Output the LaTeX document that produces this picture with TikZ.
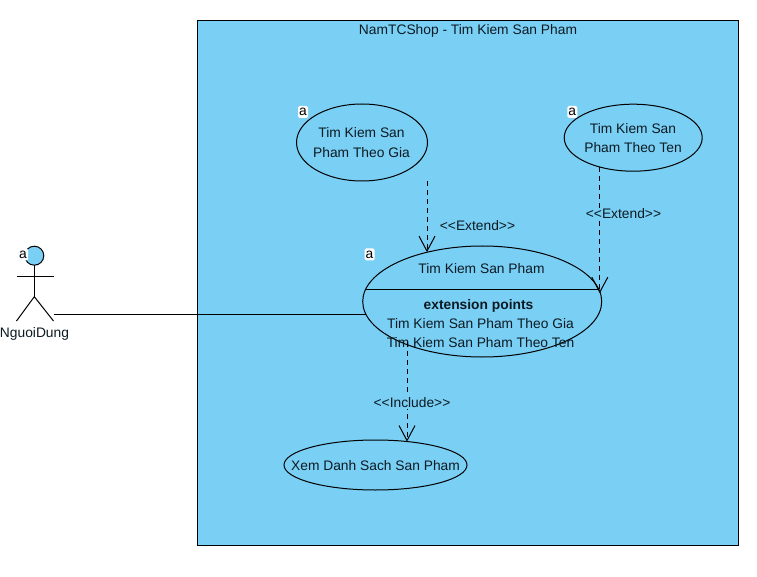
\documentclass[tikz,border=0pt]{standalone}
\usepackage{fontspec}
\setmainfont{Liberation Sans}
\usetikzlibrary{arrows.meta,shapes.geometric}
\definecolor{sysblue}{HTML}{7ACFF5}
\definecolor{inktext}{HTML}{0C1A22}
\tikzset{
  x=1pt,y=-1pt,
  every node/.style={font=\fontsize{13.8}{19.5}\selectfont,text=inktext,inner sep=0pt,outer sep=0pt},
  usecase/.style={ellipse,draw=black,line width=1pt,fill=sysblue},
  boundarybox/.style={rectangle,draw=black,line width=1pt,fill=sysblue,anchor=north west},
  lineconn/.style={draw=black,line width=1pt},
  depconn/.style={draw=black,line width=1pt,dash pattern=on 5pt off 4pt,-{Straight Barb[length=15pt,width=16pt,line width=1pt]}},
  deplabel/.style={fill=sysblue,inner xsep=1pt,inner ysep=1pt},
  badge/.style={fill=white,rounded corners=1.5pt,minimum width=10pt,minimum height=12pt,text=black,font=\fontsize{13.8}{14}\selectfont},
}
\begin{document}
\begin{tikzpicture}
\useasboundingbox (0,0) rectangle (757,577);
\fill[white] (0,0) rectangle (757,577);
\node[boundarybox,minimum width=541pt,minimum height=524pt] (sys) at (197.7,21) {};
\node (systitle) at (468,31) {NamTCShop - Tim Kiem San Pham};

\node[usecase,minimum width=131pt,minimum height=77pt] (ucGia) at (362,142.5) {};
\node[usecase,minimum width=138pt,minimum height=67pt] (ucTen) at (633.2,137.7) {};
\node[usecase,minimum width=239pt,minimum height=111pt] (ucMain) at (482.2,301.5) {};
\node[usecase,minimum width=183pt,minimum height=50pt] (ucList) at (375.5,465) {};

\node[align=center] (giaText) at (361.5,142.5) {Tim Kiem San\\Pham Theo Gia};
\node[align=center] (tenText) at (633,138) {Tim Kiem San\\Pham Theo Ten};
\node (listText) at (375.5,465.5) {Xem Danh Sach San Pham};

\coordinate (sepL) at (365.6,289.3);
\coordinate (sepR) at (598.8,289.3);
\draw[lineconn] (sepL) -- (sepR);
\node (mainTitle) at (481.5,268.7) {Tim Kiem San Pham};
\node[font=\fontsize{13.8}{19}\selectfont\bfseries] (extTitle) at (478.5,305.5) {extension points};
\node (extGia) at (480.5,323.5) {Tim Kiem San Pham Theo Gia};
\node (extTen) at (480.5,342.5) {Tim Kiem San Pham Theo Ten};

\coordinate (giaStart) at (427,181);
\coordinate (tenStart) at (599.8,167);
\coordinate (inclStart) at (407,342);
\draw[depconn] (giaStart) -- (giaStart |- ucMain.138.1);
\draw[depconn] (tenStart) -- (tenStart |- ucMain.4.3);
\draw[depconn] (inclStart) -- (inclStart |- ucList.36.7);
\node (extLabelGia) at (477.5,226) {<{}<Extend>{}>};
\node[deplabel] (extLabelTen) at (623.5,214) {<{}<Extend>{}>};
\node[deplabel] (inclLabel) at (412,402.5) {<{}<Include>{}>};

\node[circle,draw=black,line width=1pt,fill=sysblue,minimum size=19pt] (head) at (34.3,255.7) {};
\coordinate (hip) at (34.3,296.7);
\coordinate (armL) at (16.5,276.3);
\coordinate (armR) at (53.5,276.3);
\coordinate (legL) at (16.5,321);
\coordinate (legR) at (53.5,321);
\draw[lineconn] (head.south) -- (hip);
\draw[lineconn] (armL) -- (armR);
\draw[lineconn] (legL) -- (hip) -- (legR);
\node (actorName) at (34.5,333.5) {NguoiDung};
\coordinate (actorEnd) at (53.5,314.5);
\draw[lineconn] (actorEnd) -- (actorEnd -| ucMain.186.4);

\node[badge] (badgeGia) at (303,112) {a};
\node[badge] (badgeTen) at (572.3,112) {a};
\node[badge] (badgeMain) at (369.5,254.5) {a};
\node[badge] (badgeActor) at (23,254.5) {a};
\end{tikzpicture}
\end{document}
